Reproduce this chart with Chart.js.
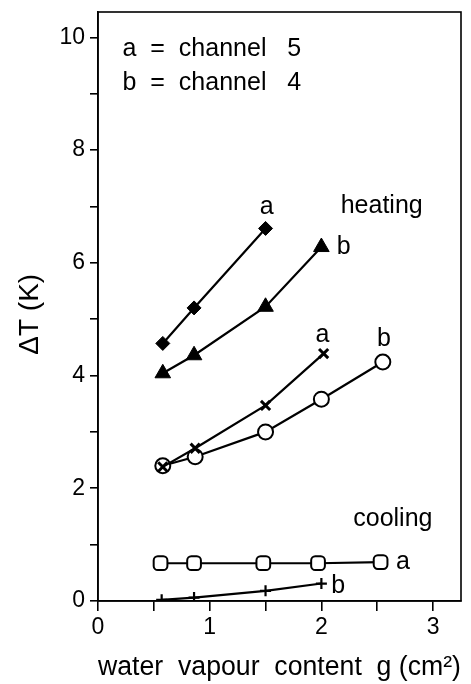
<!DOCTYPE html>
<html>
<head>
<meta charset="utf-8">
<script src="https://cdn.jsdelivr.net/npm/chart.js@4/dist/chart.umd.min.js"></script>
<style>
  html, body { margin: 0; padding: 0; background: #fff; }
  #wrap { width: 471px; height: 684px; }
</style>
</head>
<body>
<div id="wrap"><canvas id="c" width="471" height="684"></canvas></div>
<script>
// ---- data ----
const heatA_x = [0.58, 0.86, 1.5];
const heatA_y = [4.57, 5.2, 6.61];          // channel 5, diamonds
const heatB_x = [0.58, 0.86, 1.5, 2.0];
const heatB_y = [4.04, 4.36, 5.22, 6.28];   // channel 4, triangles
const midA_x = [0.58, 0.87, 1.5, 2.02];
const midA_y = [2.38, 2.71, 3.47, 4.39];    // channel 5, crosses
const midB_x = [0.58, 0.87, 1.5, 2.0, 2.55];
const midB_y = [2.4, 2.56, 3.0, 3.58, 4.24]; // channel 4, open circles
const coolA_x = [0.56, 0.86, 1.48, 1.97, 2.53];
const coolA_y = [0.67, 0.67, 0.67, 0.67, 0.69]; // channel 5, open squares
const coolB_x = [0.57, 0.86, 1.5, 2.0];
const coolB_y = [0.02, 0.06, 0.18, 0.31];   // channel 4, plus

const xTitle = 'water  vapour  content  g (cm\u00B2)';
const yTitle = '\u0394T (K)  ';
const legendLines = ['a  =  channel   5', 'b  =  channel   4'];

// text labels in data coordinates
const notes = [
  { text: legendLines[0], x: 0.22, y: 9.8, align: 'left' },
  { text: legendLines[1], x: 0.22, y: 9.18, align: 'left' },
  { text: 'heating', x: 2.54, y: 7.0, align: 'center' },
  { text: 'cooling', x: 2.64, y: 1.45, align: 'center' },
  { text: 'a', x: 1.51, y: 6.98, align: 'center' },
  { text: 'b', x: 2.2, y: 6.28, align: 'center' },
  { text: 'a', x: 2.01, y: 4.72, align: 'center' },
  { text: 'b', x: 2.56, y: 4.64, align: 'center' },
  { text: 'a', x: 2.73, y: 0.69, align: 'center' },
  { text: 'b', x: 2.15, y: 0.27, align: 'center' }
];

const FONT = '"Liberation Sans", Arial, Helvetica, sans-serif';
const toPts = (xs, ys) => xs.map((x, i) => ({ x: x, y: ys[i] }));

function ds(xs, ys, style, radius, fill, lw) {
  return {
    data: toPts(xs, ys),
    showLine: true,
    borderColor: '#000',
    borderWidth: 2.2,
    pointStyle: style,
    pointRadius: radius,
    pointHoverRadius: radius,
    pointBackgroundColor: fill,
    pointBorderColor: '#000',
    pointBorderWidth: lw,
    fill: false
  };
}

const framePlugin = {
  id: 'frame',
  afterDatasetsDraw(chart) {
    const { ctx, chartArea: a } = chart;
    ctx.save();
    ctx.strokeStyle = '#000';
    ctx.lineWidth = 1.6;
    ctx.strokeRect(a.left, a.top, a.right - a.left, a.bottom - a.top);
    ctx.restore();
  }
};

const notesPlugin = {
  id: 'notes',
  afterDraw(chart) {
    const { ctx } = chart;
    const sx = chart.scales.x, sy = chart.scales.y;
    ctx.save();
    ctx.fillStyle = '#000';
    ctx.font = '25px ' + FONT;
    ctx.textBaseline = 'middle';
    notes.forEach(n => {
      ctx.textAlign = n.align;
      ctx.fillText(n.text, sx.getPixelForValue(n.x), sy.getPixelForValue(n.y));
    });
    ctx.restore();
  }
};

new Chart(document.getElementById('c'), {
  type: 'scatter',
  data: {
    datasets: [
      ds(heatA_x, heatA_y, 'rectRot', 7, '#000', 1),
      ds(heatB_x, heatB_y, 'triangle', 9, '#000', 1),
      ds(midA_x, midA_y, 'crossRot', 6.5, '#000', 3),
      ds(midB_x, midB_y, 'circle', 7.5, '#fff', 2),
      ds(coolA_x, coolA_y, 'rectRounded', 8, '#fff', 2),
      ds(coolB_x, coolB_y, 'cross', 5.5, '#000', 2.2)
    ]
  },
  options: {
    responsive: false,
    animation: false,
    events: [],
    layout: { padding: { left: 0, right: 5, top: 12, bottom: 0 } },
    plugins: { legend: { display: false }, tooltip: { enabled: false } },
    scales: {
      x: {
        type: 'linear',
        min: 0, max: 3.25,
        afterFit: s => { s.height = 83; s.paddingLeft = 0; s.paddingRight = 0; },
        border: { display: true, color: '#000', width: 1.6 },
        grid: { display: true, drawOnChartArea: false, drawTicks: true, tickLength: 10, color: '#000', lineWidth: 1.6 },
        ticks: {
          stepSize: 0.5, includeBounds: false, autoSkip: false, maxRotation: 0,
          color: '#000', padding: 3,
          font: { family: FONT, size: 23 },
          callback: v => (Math.abs(v - Math.round(v)) < 1e-6 ? String(Math.round(v)) : '')
        },
        title: { display: true, text: xTitle, color: '#000', font: { family: FONT, size: 27, lineHeight: 1.2 }, padding: { top: 0, bottom: 0 } }
      },
      y: {
        type: 'linear',
        min: 0, max: 10.45,
        afterFit: s => { s.width = 98; s.paddingTop = 0; s.paddingBottom = 0; },
        border: { display: true, color: '#000', width: 1.6 },
        grid: { display: true, drawOnChartArea: false, drawTicks: true, tickLength: 8, color: '#000', lineWidth: 1.6 },
        ticks: {
          stepSize: 1, includeBounds: false, autoSkip: false,
          color: '#000', padding: 5,
          font: { family: FONT, size: 23 },
          callback: v => (Math.round(v) % 2 === 0 ? String(Math.round(v)) : '')
        },
        title: { display: true, text: yTitle, color: '#000', font: { family: FONT, size: 28, lineHeight: 1.2 }, padding: { top: 13, bottom: 0 } }
      }
    }
  },
  plugins: [framePlugin, notesPlugin]
});
</script>
</body>
</html>
